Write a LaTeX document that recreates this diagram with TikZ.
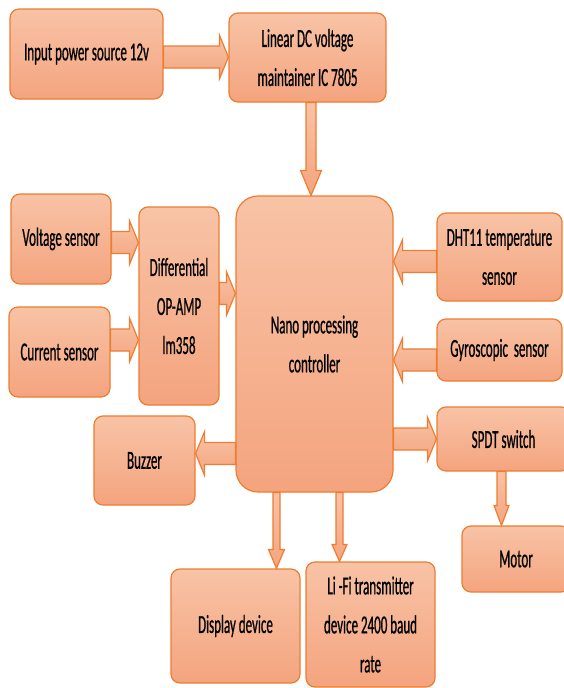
\documentclass[tikz,border=0pt]{standalone}
\usepackage{fontspec}
\setmainfont[FakeStretch=0.5,FakeBold=0.6]{Carlito}
\usetikzlibrary{calc}
\definecolor{bord}{HTML}{ED7D31}
\definecolor{ftop}{HTML}{F8C3A6}
\definecolor{fbot}{HTML}{F4A47E}
\tikzset{
 blk/.style={draw=bord, line width=1.2pt, rounded corners=9pt, top color=ftop, bottom color=fbot, inner sep=0pt, align=center, font=\fontsize{26}{39}\selectfont, text=black},
 arr/.style={draw=bord, line width=1.2pt, top color=ftop, bottom color=fbot, line join=miter},
}
\newcommand\harrow[3]{%
 \path[arr] let \p1=(#1), \p2=(#2), \p3=(0,#3), \n1={ifthenelse(\x2>\x1,1,-1)} in
 (\x1,{\y3+11pt}) -- ({\x2-\n1*9pt},{\y3+11pt}) -- ({\x2-\n1*9pt},{\y3+22pt}) -- (\x2,\y3) -- ({\x2-\n1*9pt},{\y3-22pt}) -- ({\x2-\n1*9pt},{\y3-11pt}) -- (\x1,{\y3-11pt}) -- cycle;}
\newcommand\varrow[6]{%
 \path[arr] let \p1=(#1), \p2=(#2), \p3=(#3,0) in
 ({\x3-#4pt},\y1) -- ({\x3-#4pt},{\y2+#6pt}) -- ({\x3-#5pt},{\y2+#6pt}) -- (\x3,\y2) -- ({\x3+#5pt},{\y2+#6pt}) -- ({\x3+#4pt},{\y2+#6pt}) -- ({\x3+#4pt},\y1) -- cycle;}
\begin{document}
\begin{tikzpicture}[x=1pt,y=-1pt]
\useasboundingbox (0,0) rectangle (563,688);
\node[blk, minimum width=153pt, minimum height=90pt] (in) at (86.5,54) {Input power source 12v};
\node[blk, minimum width=157pt, minimum height=89pt] (lin) at (307.5,57.5) {Linear DC voltage\\maintainer IC 7805};
\node[blk, rounded corners=22pt, minimum width=157pt, minimum height=296pt] (nano) at (314.5,344) {Nano processing\\controller};
\node[blk, minimum width=100pt, minimum height=90pt] (volt) at (61,239) {Voltage sensor};
\node[blk, minimum width=101pt, minimum height=90pt] (cur) at (59.5,352) {Current sensor};
\node[blk, minimum width=80pt, minimum height=198pt] (diff) at (179,306) {Differential\\OP-AMP\\lm358};
\node[blk, minimum width=101pt, minimum height=89pt] (buz) at (144.5,460.5) {Buzzer};
\node[blk, minimum width=125pt, minimum height=88pt] (dht) at (499.5,257) {DHT11 temperature\\sensor};
\node[blk, minimum width=125pt, minimum height=62pt] (gyro) at (499.5,350) {Gyroscopic\ \ sensor};
\node[blk, minimum width=133pt, minimum height=64pt] (spdt) at (503.5,439) {SPDT switch};
\node[blk, minimum width=108pt, minimum height=66pt] (motor) at (516,559) {Motor};
\node[blk, minimum width=129pt, minimum height=114pt] (disp) at (235.5,626) {Display device};
\node[blk, minimum width=129pt, minimum height=125pt] (lifi) at (370.5,624.5) {Li -Fi transmitter\\device 2400 baud\\rate};
\harrow{in.east}{lin.west}{57}
\harrow{volt.east}{diff.west}{242.5}
\harrow{cur.east}{diff.west}{340}
\harrow{diff.east}{nano.west}{293.5}
\harrow{nano.west}{buz.east}{453.5}
\harrow{dht.west}{nano.east}{261.5}
\harrow{gyro.west}{nano.east}{360}
\harrow{nano.east}{spdt.west}{439}
\varrow{lin.south}{nano.north}{311}{5}{10.5}{25}
\varrow{nano.south}{disp.north}{276.5}{3.5}{8}{19}
\varrow{nano.south}{lifi.north}{339.5}{3.5}{7.5}{17}
\varrow{spdt.south}{motor.north}{501.5}{4.5}{7.5}{20}
\end{tikzpicture}
\end{document}
